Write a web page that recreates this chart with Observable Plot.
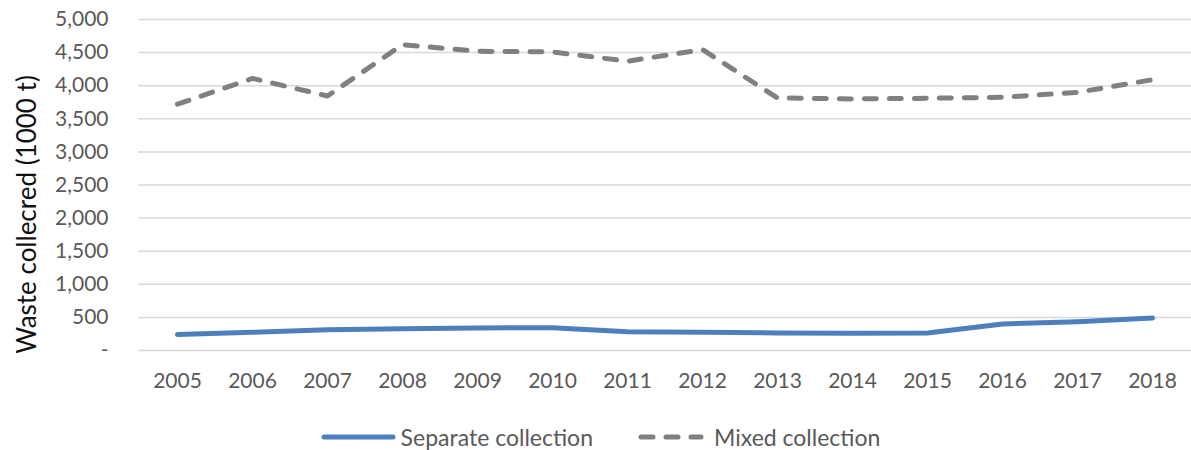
<!DOCTYPE html>
<html>
<head>
<meta charset="utf-8">
<script src="https://cdn.jsdelivr.net/npm/d3@7"></script>
<script src="https://cdn.jsdelivr.net/npm/@observablehq/plot@0.6"></script>
<style>
  html, body { margin: 0; padding: 0; background: #fff; }
  body { position: relative; width: 1191px; height: 450px; overflow: hidden; font-family: Lato, "Open Sans", sans-serif; }
  #legend { position: absolute; left: 0; top: 423px; width: 1191px; box-sizing: border-box; padding-left: 10px;
            display: flex; justify-content: center; align-items: center; font-size: 23px; line-height: 28px; color: #595959; }
  .item { display: flex; align-items: center; }
</style>
</head>
<body>
<div id="chart"></div>
<div id="legend"></div>
<script>
const years = [2005, 2006, 2007, 2008, 2009, 2010, 2011, 2012, 2013, 2014, 2015, 2016, 2017, 2018];
const separateCollection = [240, 275, 315, 330, 340, 345, 285, 275, 265, 260, 265, 400, 435, 490];
const mixedCollection = [3720, 4110, 3845, 4620, 4520, 4510, 4370, 4545, 3815, 3800, 3810, 3825, 3900, 4090];
const yTicks = [0, 500, 1000, 1500, 2000, 2500, 3000, 3500, 4000, 4500, 5000];
const seriesNames = ["Separate collection", "Mixed collection"];
const seriesColors = ["#4e7fbd", "#808080"];
const yLabel = "Waste collecred (1000 t)";

const sepData = years.map((y, i) => ({year: String(y), value: separateCollection[i]}));
const mixData = years.map((y, i) => ({year: String(y), value: mixedCollection[i]}));

const chart = Plot.plot({
  width: 1191,
  height: 405,
  marginTop: 19,
  marginBottom: 55,
  marginLeft: 138,
  marginRight: 0,
  style: {fontFamily: "Lato, 'Open Sans', sans-serif", fontSize: "21px", color: "#595959", background: "#fff", overflow: "visible"},
  x: {type: "point", domain: years.map(String), padding: 0.5},
  y: {domain: [0, 5000]},
  marks: [
    Plot.gridY(yTicks, {stroke: "#d9d9d9", strokeOpacity: 1, strokeWidth: 1.5}),
    Plot.axisY(yTicks, {
      tickSize: 0, tickPadding: 30, fontSize: 21, fill: "#595959",
      tickFormat: d => d === 0 ? "-" : d3.format(",")(d),
      label: null
    }),
    Plot.axisX({tickSize: 0, tickPadding: 23, fontSize: 21, fill: "#595959", label: null}),
    Plot.text([yLabel], {text: d => d, frameAnchor: "left", rotate: -90, dx: -111, dy: 29.5,
      fontSize: 26, fill: "#111", textAnchor: "middle", lineAnchor: "middle"}),
    Plot.line(sepData, {x: "year", y: "value", stroke: seriesColors[0], strokeWidth: 5, strokeLinecap: "round", strokeLinejoin: "round"}),
    Plot.line(mixData, {x: "year", y: "value", stroke: seriesColors[1], strokeWidth: 5, strokeLinecap: "round", strokeLinejoin: "round", strokeDasharray: "12 13"})
  ]
});
document.getElementById("chart").appendChild(chart);

const legend = document.getElementById("legend");
const gaps = [[0, 5], [44, 10]];
seriesNames.forEach((name, i) => {
  const item = document.createElement("div");
  item.className = "item";
  item.style.marginLeft = gaps[i][0] + "px";
  const dash = i === 1 ? 'stroke-dasharray="12 13" stroke-dashoffset="-1"' : '';
  const w = i === 0 ? 75 : 67;
  item.innerHTML = `<svg width="${w}" height="10" style="margin-right:${gaps[i][1]}px"><line x1="3" y1="5" x2="${w - 3}" y2="5" stroke="${seriesColors[i]}" stroke-width="5" stroke-linecap="round" ${dash}/></svg><span>${name}</span>`;
  legend.appendChild(item);
});
</script>
</body>
</html>
